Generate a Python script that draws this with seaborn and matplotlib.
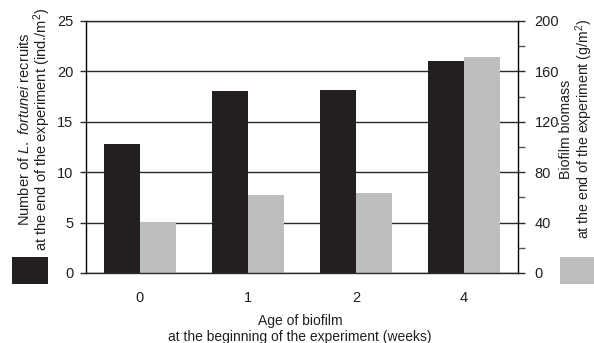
import matplotlib
matplotlib.use("Agg")
import matplotlib.pyplot as plt
import seaborn as sns
import pandas as pd
import numpy as np
from matplotlib.patches import Rectangle
from matplotlib.ticker import MultipleLocator

ages = ["0", "1", "2", "4"]
recruits = [12.8, 18.1, 18.2, 21.0]          # ind./m2 (left axis)
biomass = [40.5, 62.0, 63.5, 171.5]          # g/m2 (right axis)
series = ["recruits", "biomass"]
colors = {"recruits": "#231f20", "biomass": "#bdbec0"}

sns.set_theme(style="white")
plt.rcParams["font.family"] = ["Liberation Sans", "DejaVu Sans"]
plt.rcParams["mathtext.fontset"] = "custom"
plt.rcParams["mathtext.rm"] = "Liberation Sans"
plt.rcParams["mathtext.it"] = "Liberation Sans:italic"

W, H = 594, 343
fig = plt.figure(figsize=(W / 100, H / 100), dpi=100)
L, R, T, B = 86, 518, 21, 273
ax = fig.add_axes([L / W, 1 - B / H, (R - L) / W, (B - T) / H])
ax2 = ax.twinx()

df1 = pd.DataFrame({"age": ages, "value": recruits, "series": "recruits"})
df2 = pd.DataFrame({"age": ages, "value": biomass, "series": "biomass"})

gc = "#2a2a2a"
ax.set_axisbelow(True)
ax.grid(axis="y", color=gc, linewidth=1.0)
ax.grid(axis="x", visible=False)

sns.barplot(data=df1, x="age", y="value", hue="series", hue_order=series,
            order=ages, palette=colors, width=0.66, dodge=True,
            linewidth=0, ax=ax, legend=False, errorbar=None, saturation=1)
sns.barplot(data=df2, x="age", y="value", hue="series", hue_order=series,
            order=ages, palette=colors, width=0.66, dodge=True,
            linewidth=0, ax=ax2, legend=False, errorbar=None, saturation=1)

ax.set_xlim(-0.5, 3.5)
ax.set_ylim(0, 25)
ax2.set_ylim(0, 200)
ax.yaxis.set_major_locator(MultipleLocator(5))
ax2.yaxis.set_major_locator(MultipleLocator(40))
ax2.yaxis.set_minor_locator(MultipleLocator(20))

for a in (ax, ax2):
    a.set_xlabel("")
    a.set_ylabel("")
ax.spines["top"].set_visible(False)
ax.spines["bottom"].set_visible(False)
ax.spines["right"].set_visible(False)
ax2.spines["left"].set_visible(False)
for s in ("top", "bottom"):
    ax2.spines[s].set_visible(True)
    ax2.spines[s].set_color(gc)
    ax2.spines[s].set_linewidth(1.0)
ax.spines["left"].set_color("black")
ax.spines["left"].set_linewidth(1.0)
ax2.spines["right"].set_color("black")
ax2.spines["right"].set_linewidth(1.0)
ax2.grid(False)

ax.tick_params(axis="y", which="major", direction="out", length=4, width=1,
               color=gc, pad=5, labelsize=10.5, labelcolor="#231f20", left=True)
ax.tick_params(axis="x", length=0, pad=13, labelsize=10.5, labelcolor="#231f20")
ax2.tick_params(axis="y", which="major", direction="out", length=5, width=1,
                color=gc, pad=7, labelsize=10.5, labelcolor="#231f20", right=True)
ax2.tick_params(axis="y", which="minor", direction="out", length=5, width=1,
                color="#555555", right=True)
ax2.tick_params(axis="x", length=0, labelbottom=False)

fig.text(300 / W, 1 - 329 / H,
         "Age of biofilm\nat the beginning of the experiment (weeks)",
         ha="center", va="center", fontsize=10, linespacing=1.2, color="#231f20")

fig.text(35 / W, 1 - 129 / H,
         "Number of $\\mathit{L.}$ $\\mathit{fortunei}$ recruits\nat the end of the experiment (ind./m$^2$)",
         ha="center", va="center", rotation=90, fontsize=10.5, linespacing=1.0,
         multialignment="center", color="#231f20")
fig.text(577 / W, 1 - 129 / H,
         "Biofilm biomass\nat the end of the experiment (g/m$^2$)",
         ha="center", va="center", rotation=90, fontsize=10.2, linespacing=1.0,
         multialignment="center", color="#231f20")

fig.patches.append(Rectangle((12 / W, 1 - 284 / H), 36 / W, 27 / H,
                             transform=fig.transFigure, color=colors["recruits"],
                             linewidth=0))
fig.patches.append(Rectangle((560 / W, 1 - 284 / H), 34 / W, 27 / H,
                             transform=fig.transFigure, color=colors["biomass"],
                             linewidth=0))

fig.savefig("out.png", dpi=100)
